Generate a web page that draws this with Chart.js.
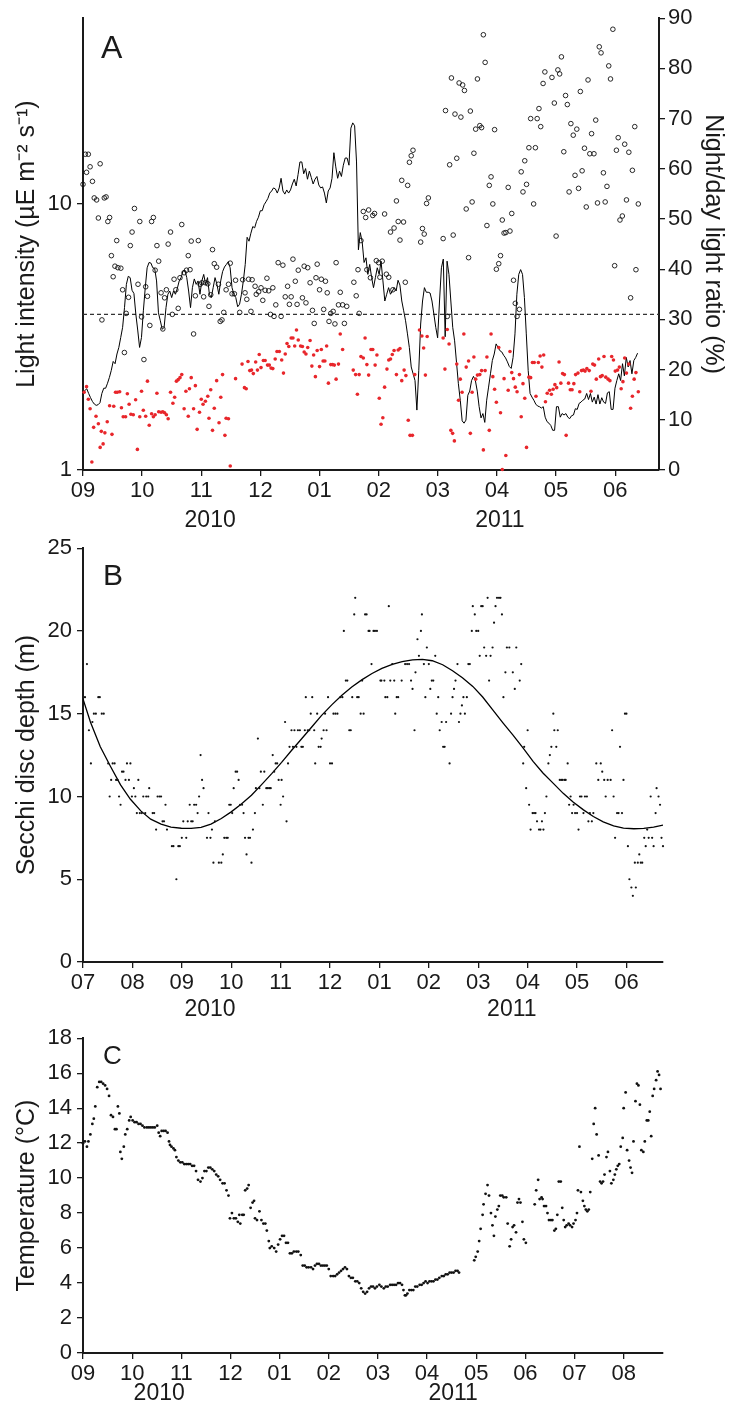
<!DOCTYPE html>
<html><head><meta charset="utf-8">
<script src="https://cdn.jsdelivr.net/npm/chart.js@4.4.0/dist/chart.umd.min.js"></script>
<style>
html,body{margin:0;padding:0;background:#fff;}
body{width:736px;height:1408px;position:relative;overflow:hidden;}
.pane{position:absolute;left:0;width:736px;}
</style></head><body>
<div class="pane" style="top:0;height:530px"><canvas id="cA"></canvas></div>
<div class="pane" style="top:530px;height:490px"><canvas id="cB"></canvas></div>
<div class="pane" style="top:1020px;height:388px"><canvas id="cC"></canvas></div>
<script>
// ---------------- DATA ----------------
// Panel A: month index 0 = Sep 2010
const monthsA = ['09','10','11','12','01','02','03','04','05','06'];
const xMaxA = 9.74;
const lightTicksA = [1, 10];
const thresholdRatio = 31;
// night/day ratio (%), open circles: [month, value]
const ratioOpen = [[0.00,56.9],[0.04,62.9],[0.06,59.3],[0.09,62.9],[0.12,60.4],[0.16,57.5],[0.19,54.2],[0.23,53.8],[0.26,50.2],[0.29,61.0],[0.32,29.9],[0.36,54.2],[0.39,54.4],[0.42,49.5],[0.45,50.3],[0.48,42.7],[0.51,38.5],[0.54,40.6],[0.57,45.7],[0.59,40.3],[0.64,40.2],[0.67,35.9],[0.70,23.4],[0.73,31.2],[0.77,34.4],[0.80,44.7],[0.83,47.4],[0.87,52.1],[0.93,37.0],[0.96,49.5],[0.99,30.5],[1.03,22.0],[1.06,36.5],[1.09,34.6],[1.13,28.8],[1.16,49.5],[1.19,50.3],[1.22,39.8],[1.25,44.7],[1.28,41.6],[1.32,35.3],[1.35,28.1],[1.38,34.3],[1.41,35.9],[1.44,45.0],[1.48,47.4],[1.51,31.0],[1.54,38.0],[1.57,35.9],[1.61,32.2],[1.64,38.3],[1.67,48.9],[1.71,39.3],[1.75,39.8],[1.78,42.7],[1.81,39.9],[1.83,45.6],[1.87,27.1],[1.90,34.7],[1.95,45.7],[1.98,37.0],[2.01,37.3],[2.04,34.5],[2.07,37.3],[2.11,37.1],[2.13,32.6],[2.16,34.9],[2.19,43.9],[2.22,41.1],[2.26,40.4],[2.29,37.0],[2.32,29.6],[2.35,29.9],[2.38,31.4],[2.42,35.9],[2.46,37.0],[2.49,41.2],[2.52,35.1],[2.56,35.1],[2.58,37.8],[2.65,31.4],[2.70,37.9],[2.74,35.3],[2.77,34.0],[2.80,38.0],[2.84,31.6],[2.86,37.9],[2.91,36.6],[2.93,35.0],[2.97,35.5],[3.01,36.3],[3.04,33.8],[3.08,35.8],[3.11,38.2],[3.14,35.7],[3.17,31.0],[3.21,36.3],[3.23,30.6],[3.26,32.9],[3.30,41.3],[3.35,30.6],[3.38,40.8],[3.42,34.5],[3.46,36.6],[3.49,33.0],[3.52,34.5],[3.55,42.0],[3.59,37.6],[3.62,33.0],[3.64,39.8],[3.71,34.3],[3.74,40.6],[3.77,33.3],[3.80,40.3],[3.84,37.3],[3.88,31.8],[3.91,29.2],[3.94,38.3],[3.96,41.0],[4.00,35.9],[4.03,38.0],[4.07,32.0],[4.10,37.6],[4.13,35.3],[4.16,29.6],[4.19,31.2],[4.23,31.6],[4.26,29.1],[4.28,41.3],[4.32,32.9],[4.35,35.4],[4.39,32.9],[4.42,29.2],[4.46,32.6],[4.58,37.4],[4.62,34.7],[4.65,39.9],[4.67,31.2],[4.70,45.7],[4.74,51.5],[4.78,50.3],[4.80,39.9],[4.83,51.8],[4.86,38.3],[4.90,50.7],[4.93,51.1],[4.96,41.7],[5.00,41.3],[5.02,38.4],[5.06,41.6],[5.10,51.0],[5.13,39.0],[5.17,38.4],[5.20,47.4],[5.24,35.9],[5.26,48.2],[5.30,53.6],[5.33,49.5],[5.36,45.8],[5.39,57.7],[5.42,49.4],[5.45,37.4],[5.49,56.7],[5.52,61.3],[5.55,62.6],[5.58,63.7],[5.71,45.4],[5.74,48.1],[5.77,47.0],[5.81,53.1],[5.84,54.2],[6.09,46.1],[6.13,71.6],[6.16,30.6],[6.20,60.8],[6.23,78.1],[6.26,46.8],[6.29,70.9],[6.32,62.1],[6.36,77.1],[6.39,70.3],[6.42,76.7],[6.45,75.6],[6.48,52.0],[6.52,42.3],[6.55,71.5],[6.58,53.4],[6.61,63.1],[6.64,67.9],[6.67,77.9],[6.71,68.6],[6.74,68.2],[6.77,86.7],[6.80,81.2],[6.83,48.7],[6.87,56.7],[6.90,58.4],[6.93,53.0],[6.96,67.8],[6.99,40.0],[7.03,41.1],[7.06,42.7],[7.09,49.8],[7.12,47.2],[7.15,47.3],[7.19,56.3],[7.22,47.6],[7.25,51.1],[7.28,37.8],[7.31,33.2],[7.34,30.6],[7.38,32.0],[7.41,59.4],[7.44,55.4],[7.47,61.6],[7.50,56.9],[7.54,64.2],[7.57,70.0],[7.62,53.0],[7.65,64.2],[7.68,70.0],[7.71,72.0],[7.74,68.4],[7.78,77.0],[7.81,79.3],[7.93,78.2],[7.97,73.1],[8.00,46.6],[8.03,79.7],[8.06,78.9],[8.09,82.3],[8.13,63.4],[8.16,74.6],[8.19,72.8],[8.22,55.4],[8.25,69.0],[8.29,66.7],[8.32,58.7],[8.35,67.9],[8.38,56.1],[8.41,75.4],[8.44,59.6],[8.48,64.1],[8.51,52.4],[8.54,77.7],[8.57,63.0],[8.60,67.0],[8.64,63.0],[8.67,69.7],[8.70,53.2],[8.73,84.3],[8.76,83.1],[8.80,59.2],[8.83,53.4],[8.86,56.5],[8.89,80.5],[8.92,77.9],[8.96,87.8],[8.99,40.7],[9.02,63.7],[9.05,66.2],[9.08,49.8],[9.12,50.6],[9.16,64.9],[9.19,53.8],[9.23,63.3],[9.26,34.3],[9.29,59.7],[9.33,68.4],[9.35,39.9],[9.39,53.0]];
// night/day ratio (%), red dots: [month, value]
const ratioRed = [[0.02,15.5],[0.06,16.6],[0.09,14.1],[0.12,12.2],[0.15,1.6],[0.18,8.5],[0.22,10.7],[0.26,9.2],[0.29,4.5],[0.31,7.7],[0.34,5.2],[0.37,7.4],[0.41,9.6],[0.45,12.8],[0.49,7.1],[0.52,12.7],[0.55,15.5],[0.58,15.5],[0.62,15.6],[0.65,12.4],[0.68,10.6],[0.72,10.6],[0.75,15.2],[0.78,13.1],[0.81,11.1],[0.85,11.0],[0.89,14.0],[0.92,4.1],[0.96,10.6],[0.99,15.7],[1.02,11.9],[1.06,10.7],[1.09,17.7],[1.12,8.9],[1.16,11.2],[1.19,10.6],[1.22,11.0],[1.25,15.3],[1.28,11.6],[1.32,11.5],[1.35,11.6],[1.38,11.4],[1.41,11.0],[1.44,10.2],[1.48,15.5],[1.52,13.3],[1.55,14.5],[1.58,17.7],[1.61,18.0],[1.64,18.4],[1.67,19.0],[1.71,12.2],[1.74,15.7],[1.78,10.7],[1.80,16.2],[1.83,18.4],[1.87,12.2],[1.90,16.8],[1.93,8.1],[1.97,11.5],[2.00,14.1],[2.03,13.1],[2.07,13.7],[2.11,14.7],[2.13,10.3],[2.16,16.0],[2.19,7.9],[2.22,12.3],[2.26,17.8],[2.30,9.4],[2.33,14.5],[2.36,19.0],[2.40,6.9],[2.42,10.3],[2.46,10.2],[2.49,0.8],[2.58,18.2],[2.69,21.1],[2.73,16.4],[2.76,16.2],[2.79,21.6],[2.82,19.8],[2.85,19.9],[2.88,19.2],[2.92,21.5],[2.95,19.9],[2.98,23.0],[3.01,20.4],[3.05,21.8],[3.08,21.8],[3.12,20.9],[3.15,20.9],[3.18,20.3],[3.21,20.2],[3.25,22.1],[3.28,23.6],[3.32,23.6],[3.36,21.9],[3.39,19.3],[3.42,23.1],[3.45,25.2],[3.48,24.6],[3.52,26.3],[3.55,26.3],[3.58,24.7],[3.61,27.9],[3.64,25.9],[3.68,24.7],[3.71,24.6],[3.74,23.5],[3.77,23.1],[3.80,24.4],[3.84,25.8],[3.87,20.7],[3.90,22.9],[3.93,18.6],[3.96,23.8],[4.00,20.6],[4.03,24.0],[4.06,21.7],[4.09,21.7],[4.12,24.7],[4.15,17.3],[4.19,21.0],[4.22,21.0],[4.25,20.9],[4.28,18.1],[4.32,21.1],[4.35,27.1],[4.39,24.0],[4.57,19.9],[4.61,19.0],[4.64,15.1],[4.67,19.0],[4.70,22.6],[4.74,22.3],[4.77,26.3],[4.80,21.0],[4.83,18.9],[4.87,24.0],[4.90,24.0],[4.94,20.9],[4.97,22.9],[5.01,14.3],[5.04,9.1],[5.07,10.4],[5.10,16.5],[5.14,20.1],[5.17,21.9],[5.20,22.1],[5.23,23.0],[5.26,23.8],[5.30,19.0],[5.33,23.9],[5.36,24.2],[5.39,17.8],[5.43,19.9],[5.46,18.8],[5.50,9.9],[5.53,6.9],[5.57,6.9],[5.61,19.0],[5.69,27.9],[5.73,26.7],[5.76,24.3],[5.79,18.9],[5.82,26.6],[6.09,26.3],[6.12,20.1],[6.16,28.0],[6.19,25.1],[6.22,7.9],[6.25,7.3],[6.28,5.8],[6.32,21.1],[6.35,13.9],[6.38,18.1],[6.41,15.5],[6.44,27.1],[6.48,20.5],[6.52,21.7],[6.55,7.3],[6.58,15.5],[6.61,22.5],[6.64,18.1],[6.67,18.9],[6.71,19.0],[6.74,19.8],[6.77,4.0],[6.80,19.8],[6.83,22.5],[6.87,7.9],[6.90,27.1],[6.93,18.6],[6.96,16.1],[6.99,13.5],[7.03,24.4],[7.06,11.4],[7.09,0.1],[7.12,18.2],[7.15,2.9],[7.19,15.9],[7.22,23.6],[7.25,19.4],[7.28,18.2],[7.31,16.5],[7.34,15.6],[7.38,19.0],[7.41,10.6],[7.44,17.2],[7.47,14.3],[7.50,4.5],[7.54,18.5],[7.57,18.4],[7.60,21.4],[7.63,21.4],[7.66,14.7],[7.70,21.4],[7.73,22.7],[7.76,20.5],[7.79,22.9],[7.82,13.6],[7.85,15.3],[7.89,15.9],[7.92,15.1],[7.95,16.1],[7.98,17.0],[8.01,16.4],[8.05,21.5],[8.08,17.3],[8.11,19.2],[8.14,19.0],[8.17,6.9],[8.21,17.3],[8.24,16.0],[8.27,16.0],[8.30,17.2],[8.33,19.0],[8.37,19.3],[8.40,15.6],[8.43,19.8],[8.46,19.9],[8.49,19.7],[8.52,20.2],[8.56,19.8],[8.59,15.7],[8.62,21.1],[8.65,20.9],[8.68,18.1],[8.72,22.1],[8.75,18.6],[8.78,18.8],[8.81,22.6],[8.84,18.5],[8.88,18.1],[8.91,17.8],[8.94,22.6],[8.97,21.9],[9.00,19.7],[9.04,19.9],[9.07,20.5],[9.10,16.2],[9.13,17.6],[9.16,22.3],[9.19,19.3],[9.23,21.1],[9.26,12.3],[9.29,14.7],[9.32,18.1],[9.35,19.4],[9.39,15.6]];
// light intensity (µE m-2 s-1), one sample per day-step
const lightSamplesPerMonth = 31.35;
const lightIntensity = [1.96,1.99,2.02,1.94,1.87,1.81,1.77,1.75,1.76,1.79,
1.94,2.03,2.03,2.12,2.23,2.37,2.56,2.51,2.73,2.89,
3.15,3.44,4.08,4.99,5.35,5.29,4.74,4.61,3.86,3.36,
2.89,3.15,3.97,4.85,5.76,6.03,6.00,5.76,5.73,5.14,
3.90,3.64,3.38,3.44,4.08,4.58,4.71,4.45,4.71,4.58,
4.82,5.14,5.29,5.60,5.63,5.29,4.71,4.08,4.85,5.23,
4.99,5.14,4.58,5.14,5.44,4.99,5.29,4.58,4.45,4.85,
5.29,4.99,4.58,5.14,5.57,5.80,5.93,6.07,5.76,4.85,
4.58,4.45,4.11,4.20,4.58,5.14,5.93,7.50,7.25,7.77,
8.23,8.14,8.61,8.92,9.44,9.44,9.94,10.2,10.5,11.0,
11.2,11.5,11.4,11.0,11.5,12.5,11.2,10.9,11.3,11.0,
11.3,11.9,12.4,11.7,12.9,14.4,14.4,13.0,13.6,12.4,
13.3,12.6,11.9,12.4,12.7,11.8,11.5,11.6,11.0,10.1,
11.2,11.5,12.5,15.6,13.8,12.5,13.3,12.7,14.0,14.9,
14.9,14.0,19.3,20.2,19.7,14.4,6.73,7.81,7.21,6.03,
6.28,5.44,5.93,5.29,4.85,5.29,5.76,5.44,6.10,5.14,
4.32,4.58,4.85,4.58,4.71,4.85,4.71,5.17,4.96,4.32,
3.97,3.64,3.25,2.89,2.44,2.30,2.17,1.68,2.37,3.54,
4.32,4.85,4.66,4.66,4.63,4.32,3.86,3.44,3.14,4.32,
5.76,6.21,3.17,6.10,5.44,4.32,3.44,3.06,2.54,2.11,
1.83,1.53,1.50,1.54,1.91,1.98,2.17,2.25,2.17,1.98,
1.73,1.57,1.63,1.51,1.83,2.05,2.30,2.58,2.73,2.98,
2.89,2.81,2.78,2.70,2.64,2.55,2.45,2.41,2.65,3.25,
4.58,5.44,5.67,5.44,4.45,3.25,2.37,1.94,1.88,1.83,
1.77,1.74,1.73,1.71,1.73,1.58,1.52,1.50,1.47,1.41,
1.41,1.73,1.73,1.58,1.63,1.61,1.63,1.58,1.56,1.60,
1.61,1.70,1.69,1.78,1.80,1.83,1.85,1.94,1.84,1.94,
1.80,1.88,1.77,1.92,1.77,1.87,1.80,1.78,1.95,1.97,
1.69,1.69,2.03,2.17,2.30,2.17,2.51,2.26,2.65,2.44,
2.58,2.30,2.58,2.65,2.75];

// Panel B: month index 0 = Jul 2010
const monthsB = ['07','08','09','10','11','12','01','02','03','04','05','06'];
const xMaxB = 11.74;
const secchi = [[0.04,16],[0.08,18],[0.12,14],[0.16,12],[0.19,14.5],[0.22,15],[0.26,15],[0.31,16],[0.34,16],[0.38,15],[0.42,15],[0.51,12],[0.54,10],[0.57,11],[0.60,12],[0.64,12],[0.67,11],[0.70,11],[0.73,10],[0.76,9.5],[0.79,11.5],[0.82,11.5],[0.86,11],[0.89,12],[0.93,11],[0.96,12],[0.99,10],[1.03,10.5],[1.06,10],[1.09,9],[1.12,11],[1.15,9],[1.19,9],[1.22,10],[1.26,9],[1.28,10],[1.32,10],[1.34,10.5],[1.41,9],[1.44,9],[1.48,8],[1.51,10],[1.55,10],[1.58,10],[1.61,8.5],[1.64,8.5],[1.67,9.5],[1.70,8],[1.80,7],[1.83,7],[1.89,5],[1.93,7],[1.96,7],[2.00,7.5],[2.03,8.5],[2.09,7.5],[2.12,8.5],[2.16,9.5],[2.19,8.5],[2.22,8.5],[2.25,9.5],[2.29,9.5],[2.32,9],[2.35,10],[2.38,12.5],[2.41,11],[2.44,10.5],[2.51,7.5],[2.54,9],[2.58,7.5],[2.61,8],[2.64,6],[2.67,8.5],[2.75,6],[2.80,6],[2.83,6.5],[2.86,7.5],[2.90,7.5],[2.93,7.5],[2.96,9.5],[2.99,9.5],[3.02,9],[3.05,10.5],[3.09,11.5],[3.12,11.5],[3.15,11],[3.18,9.5],[3.22,9.5],[3.25,9],[3.28,7.5],[3.31,6.5],[3.35,7.5],[3.38,7.5],[3.41,6],[3.44,8],[3.48,9],[3.50,10.5],[3.54,13.5],[3.57,10.5],[3.60,11.5],[3.64,9.5],[3.67,11.5],[3.71,10.5],[3.74,10.5],[3.77,10.5],[3.80,10.5],[3.84,12.5],[3.87,11.5],[3.90,12],[3.93,12],[3.96,11],[4.00,9.5],[4.02,11],[4.05,10],[4.09,14.5],[4.12,8.5],[4.15,12],[4.18,13],[4.22,14],[4.25,13],[4.28,14],[4.32,13],[4.35,14],[4.39,14],[4.42,13],[4.45,13],[4.49,14],[4.51,16],[4.55,14],[4.58,14],[4.61,15],[4.64,16],[4.68,14],[4.70,12],[4.74,15],[4.77,13],[4.81,13],[4.83,13.5],[4.87,14],[4.90,15],[4.93,14],[4.96,16],[5.00,12],[5.04,12],[5.07,15],[5.11,15],[5.15,15],[5.21,16],[5.25,16],[5.28,20],[5.32,17],[5.35,17],[5.39,14],[5.42,14],[5.45,16],[5.49,21],[5.51,22],[5.55,16],[5.58,16],[5.62,15],[5.65,17],[5.68,15],[5.71,21],[5.74,21],[5.78,20],[5.80,20],[5.84,18],[5.88,20],[5.91,20],[5.95,20],[6.02,17],[6.04,17],[6.10,17],[6.12,16],[6.16,16],[6.19,21.5],[6.22,17],[6.26,18],[6.30,17],[6.32,15],[6.35,16],[6.38,16],[6.45,17],[6.52,18],[6.56,18],[6.60,18],[6.64,17],[6.67,16.5],[6.71,14],[6.73,17.5],[6.77,19.5],[6.80,18.5],[6.84,20],[6.86,21],[6.90,18],[6.93,16],[6.96,19],[7.00,18],[7.03,16.5],[7.06,17],[7.09,17],[7.13,18.5],[7.16,15],[7.19,16],[7.22,14],[7.26,14.5],[7.29,13],[7.32,13],[7.35,14.5],[7.42,12],[7.45,15],[7.48,16],[7.51,16.5],[7.54,17],[7.58,18],[7.61,14.5],[7.64,15],[7.67,15.5],[7.70,16],[7.73,15],[7.77,16],[7.80,18],[7.83,18],[7.87,20],[7.89,21.5],[7.93,21],[7.96,20],[8.00,20],[8.03,18.5],[8.06,21.5],[8.09,21.5],[8.12,19],[8.16,18.5],[8.19,22],[8.22,17],[8.25,18.5],[8.29,19],[8.32,20.5],[8.35,21.5],[8.38,22],[8.42,22],[8.45,22],[8.48,21],[8.51,16],[8.55,17.5],[8.58,19],[8.63,19],[8.70,17.5],[8.74,16.5],[8.77,19],[8.84,17],[8.87,18],[8.91,12],[8.93,13],[8.97,10.5],[9.00,14],[9.03,9.5],[9.06,8],[9.10,9],[9.13,9],[9.16,9],[9.19,8.5],[9.23,8],[9.26,8],[9.29,8.5],[9.32,8],[9.35,9],[9.38,10],[9.42,12],[9.45,12.5],[9.48,13],[9.52,15],[9.54,14],[9.58,13],[9.61,14],[9.65,11],[9.68,11],[9.71,11],[9.75,11],[9.77,11],[9.81,12],[9.84,9.5],[9.87,10],[9.90,9],[9.93,9.5],[9.96,9],[10.00,9],[10.03,8],[10.06,10],[10.09,10],[10.13,9],[10.16,10],[10.20,10],[10.23,8.5],[10.26,9],[10.30,8.5],[10.33,9],[10.39,12],[10.43,11],[10.48,12],[10.51,11.5],[10.55,11],[10.58,10],[10.62,11],[10.68,11],[10.71,14],[10.74,10],[10.77,7.5],[10.81,9],[10.84,9],[10.87,13],[10.91,9],[10.94,11],[10.97,15],[11.00,15],[11.03,7],[11.06,5],[11.10,4.5],[11.13,4],[11.17,6],[11.19,4.5],[11.23,6],[11.26,6.5],[11.29,6],[11.32,6],[11.36,7.5],[11.39,7],[11.42,8],[11.45,7.5],[11.49,10],[11.52,7.5],[11.55,7],[11.59,9],[11.61,10.5],[11.65,10],[11.68,9.5],[11.71,7.5],[11.74,7]];
const secchiFit = [[0,15.9],[0.15,14.5],[0.35,13.0],[0.56,11.8],[0.76,10.7],[0.96,9.83],[1.17,9.13],[1.37,8.63],[1.58,8.33],[1.78,8.15],[1.99,8.08],[2.19,8.07],[2.39,8.13],[2.59,8.33],[2.80,8.67],[3.00,9.07],[3.20,9.53],[3.41,10.07],[3.61,10.7],[3.82,11.38],[4.02,12.06],[4.22,12.78],[4.43,13.5],[4.63,14.2],[4.83,14.9],[5.04,15.55],[5.24,16.12],[5.44,16.62],[5.65,17.06],[5.85,17.43],[6.05,17.74],[6.26,17.98],[6.46,18.15],[6.67,18.25],[6.87,18.28],[7.07,18.2],[7.28,17.96],[7.48,17.6],[7.68,17.17],[7.89,16.65],[8.09,16.01],[8.29,15.25],[8.50,14.45],[8.70,13.72],[8.91,12.92],[9.11,12.12],[9.31,11.42],[9.52,10.79],[9.72,10.19],[9.92,9.67],[10.13,9.19],[10.33,8.79],[10.53,8.47],[10.74,8.23],[10.94,8.09],[11.15,8.05],[11.35,8.07],[11.55,8.15],[11.74,8.27]];

// Panel C: month index 0 = Sep 2010
const monthsC = ['09','10','11','12','01','02','03','04','05','06','07','08'];
const xMaxC = 11.8;
const temperature = [[0.00,12.0],[0.04,12.1],[0.08,11.8],[0.11,12.1],[0.15,12.5],[0.19,13.1],[0.22,13.4],[0.25,14.1],[0.29,15.2],[0.33,15.5],[0.37,15.5],[0.41,15.4],[0.45,15.3],[0.49,15.1],[0.53,14.7],[0.57,13.6],[0.61,13.5],[0.65,12.8],[0.68,12.8],[0.71,14.1],[0.74,13.7],[0.76,11.5],[0.79,11.1],[0.83,11.8],[0.86,12.5],[0.90,12.8],[0.94,13.3],[0.97,13.5],[1.01,13.3],[1.05,13.2],[1.09,13.2],[1.13,13.1],[1.17,13.1],[1.21,13.0],[1.25,12.9],[1.30,12.9],[1.34,12.9],[1.38,12.9],[1.42,12.9],[1.46,12.9],[1.51,13.0],[1.54,12.6],[1.57,12.4],[1.60,12.7],[1.64,12.7],[1.68,12.7],[1.72,12.6],[1.75,12.1],[1.77,11.9],[1.80,11.8],[1.84,11.7],[1.87,11.6],[1.90,11.2],[1.94,11.0],[1.98,10.9],[2.02,10.9],[2.06,10.8],[2.10,10.8],[2.14,10.8],[2.18,10.8],[2.22,10.7],[2.26,10.7],[2.30,10.4],[2.34,9.9],[2.39,9.8],[2.43,10.0],[2.47,10.4],[2.51,10.4],[2.55,10.6],[2.59,10.6],[2.63,10.5],[2.67,10.4],[2.71,10.2],[2.75,10.1],[2.79,9.9],[2.84,9.7],[2.88,9.7],[2.92,9.3],[2.96,9.0],[2.99,7.7],[3.03,8.0],[3.07,7.7],[3.11,7.7],[3.15,7.5],[3.18,7.9],[3.20,7.4],[3.24,7.9],[3.27,7.9],[3.30,9.3],[3.34,9.4],[3.37,9.6],[3.41,8.3],[3.45,8.6],[3.48,8.7],[3.50,7.7],[3.54,7.6],[3.59,8.1],[3.63,7.6],[3.67,7.4],[3.71,7.4],[3.74,7.0],[3.78,6.4],[3.80,6.0],[3.84,6.1],[3.89,6.0],[3.93,5.8],[3.97,6.2],[4.01,6.5],[4.05,6.7],[4.09,6.7],[4.13,6.3],[4.17,6.3],[4.21,5.7],[4.25,5.7],[4.29,5.8],[4.34,5.8],[4.38,5.8],[4.43,5.6],[4.47,5.0],[4.51,5.0],[4.55,4.9],[4.59,4.9],[4.64,4.9],[4.68,4.8],[4.72,5.0],[4.76,5.1],[4.80,5.1],[4.84,5.0],[4.88,5.0],[4.92,5.0],[4.96,5.0],[5.00,4.8],[5.04,4.4],[5.09,4.4],[5.13,4.4],[5.17,4.5],[5.21,4.6],[5.25,4.7],[5.29,4.8],[5.33,4.9],[5.37,4.8],[5.41,4.4],[5.45,4.3],[5.49,4.3],[5.54,4.1],[5.58,4.1],[5.62,4.0],[5.66,3.7],[5.70,3.5],[5.74,3.4],[5.78,3.5],[5.82,3.7],[5.86,3.8],[5.90,3.8],[5.94,3.7],[5.98,3.8],[6.03,3.9],[6.07,3.8],[6.12,3.7],[6.16,3.8],[6.20,3.8],[6.25,3.9],[6.29,3.9],[6.33,3.9],[6.37,3.9],[6.41,4.0],[6.45,4.0],[6.49,3.9],[6.52,3.6],[6.55,3.3],[6.57,3.3],[6.60,3.4],[6.64,3.6],[6.68,3.6],[6.72,3.6],[6.76,3.8],[6.80,3.8],[6.85,3.9],[6.89,3.9],[6.93,4.0],[6.97,4.1],[7.01,4.0],[7.05,4.1],[7.09,4.1],[7.13,4.1],[7.17,4.2],[7.21,4.2],[7.25,4.3],[7.30,4.4],[7.34,4.4],[7.38,4.5],[7.42,4.5],[7.46,4.6],[7.50,4.6],[7.54,4.6],[7.58,4.7],[7.62,4.7],[7.65,4.6],[7.96,5.3],[7.99,5.5],[8.03,5.8],[8.06,6.4],[8.09,7.1],[8.13,7.9],[8.15,8.5],[8.19,9.1],[8.23,9.6],[8.26,9.0],[8.30,8.0],[8.33,7.3],[8.36,6.7],[8.39,7.8],[8.43,8.2],[8.46,8.4],[8.49,9.0],[8.53,9.0],[8.56,8.9],[8.61,8.9],[8.64,7.4],[8.68,6.1],[8.71,6.5],[8.74,7.2],[8.77,7.3],[8.81,6.9],[8.84,8.6],[8.87,8.8],[8.90,8.6],[8.94,7.5],[8.97,6.5],[9.01,6.3],[9.19,8.5],[9.22,9.3],[9.26,9.9],[9.29,8.8],[9.33,8.9],[9.35,8.8],[9.38,8.4],[9.42,8.4],[9.45,8.0],[9.48,7.6],[9.52,7.6],[9.55,7.6],[9.59,7.0],[9.62,7.1],[9.65,7.9],[9.68,9.8],[9.72,9.8],[9.75,8.3],[9.78,7.6],[9.81,7.2],[9.84,7.3],[9.88,7.4],[9.91,7.3],[9.95,7.2],[9.98,7.4],[10.02,7.6],[10.05,8.0],[10.07,9.3],[10.10,11.8],[10.13,9.2],[10.17,8.7],[10.20,8.4],[10.23,8.2],[10.26,8.1],[10.29,8.2],[10.32,9.2],[10.36,11.1],[10.39,13.1],[10.42,14.0],[10.45,12.5],[10.49,11.3],[10.52,9.8],[10.55,9.7],[10.58,9.8],[10.61,10.2],[10.65,11.2],[10.68,11.5],[10.72,10.4],[10.75,9.7],[10.79,9.9],[10.82,10.2],[10.85,10.5],[10.88,10.7],[10.91,10.8],[10.94,11.8],[10.98,12.3],[11.00,14.0],[11.04,14.9],[11.07,11.6],[11.11,11.0],[11.14,10.6],[11.17,10.3],[11.20,12.1],[11.24,14.4],[11.27,15.4],[11.30,15.3],[11.33,14.2],[11.36,11.6],[11.40,11.5],[11.43,12.1],[11.47,13.3],[11.50,13.3],[11.53,13.8],[11.56,12.4],[11.59,14.7],[11.62,15.1],[11.66,15.6],[11.69,16.1],[11.72,15.9],[11.75,15.1]];

const yearLabels = ['2010','2011'];

// ---------------- RENDER ----------------
const FONT = "'Liberation Sans', Arial, Helvetica, sans-serif";
const INK = '#1a1a1a';
const pts = arr => arr.map(p => ({x:p[0], y:p[1]}));

const annot = {
  id:'annot',
  afterDraw(chart, args, o){
    const {ctx, chartArea, scales} = chart;
    ctx.save();
    ctx.fillStyle = INK;
    ctx.font = o.letterSize + 'px ' + FONT;
    ctx.textAlign = 'left'; ctx.textBaseline = 'alphabetic';
    ctx.fillText(o.letter, chartArea.left + o.letterDx, chartArea.top + o.letterDy);
    ctx.font = o.yearSize + 'px ' + FONT;
    ctx.textAlign = 'center'; ctx.textBaseline = 'middle';
    o.yearPos.forEach((v,i) => ctx.fillText(yearLabels[i], scales.x.getPixelForValue(v), chartArea.bottom + o.yearDy));
    ctx.restore();
  }
};

function xAxis(max, labels, h, size){
  return {
    type:'linear', position:'bottom', min:0, max:max,
    afterFit: s => { s.height = h; },
    ticks:{ stepSize:1, includeBounds:false, autoSkip:false, maxRotation:0, minRotation:0, padding:2, color:INK,
      font:{size:size, family:FONT},
      callback: v => { const i = Math.round(v); return Math.abs(v-i) < 1e-6 && labels[i] !== undefined ? labels[i] : ''; } },
    grid:{ drawOnChartArea:false, drawTicks:true, tickLength:6, color:INK, lineWidth:1.3 },
    border:{ display:true, color:INK, width:2 }
  };
}
function yAxis(extra){
  return Object.assign({
    grid:{ drawOnChartArea:false, drawTicks:true, tickLength:6, color:INK, lineWidth:1.3 },
    border:{ display:true, color:INK, width:2 }
  }, extra);
}
const common = {
  responsive:true, maintainAspectRatio:false, animation:false, events:[],
};

// Panel A
new Chart(document.getElementById('cA'), {
  type:'scatter',
  data:{ datasets:[
    { data: lightIntensity.map((v,i)=>({x:i/lightSamplesPerMonth, y:v})), yAxisID:'yL', showLine:true,
      borderColor:'#000', borderWidth:1, pointRadius:0, order:3 },
    { data: [{x:0,y:thresholdRatio},{x:xMaxA,y:thresholdRatio}], yAxisID:'yR', showLine:true,
      borderColor:'#333', borderWidth:1.2, borderDash:[4,3], pointRadius:0, order:4 },
    { data: pts(ratioOpen), yAxisID:'yR', pointRadius:2.3, pointBorderWidth:0.9,
      pointBorderColor:'#111', pointBackgroundColor:'rgba(255,255,255,0)', clip:false, order:2 },
    { data: pts(ratioRed), yAxisID:'yR', pointRadius:1.8, pointBorderWidth:0,
      pointBackgroundColor:'#e8262b', clip:false, order:1 }
  ]},
  options: Object.assign({}, common, {
    layout:{ padding:{ top:16, left:0, right:0, bottom:0 } },
    plugins:{ legend:{display:false}, tooltip:{enabled:false},
      annot:{ letter:'A', letterSize:32, letterDx:18, letterDy:40, yearSize:23, yearDy:51, yearPos:[2.15, 7.05] } },
    scales:{
      x: xAxis(xMaxA, monthsA, 60, 22),
      yL: yAxis({ type:'logarithmic', position:'left', min:1, max:50,
        afterBuildTicks: s => { s.ticks = lightTicksA.map(v=>({value:v})); },
        afterFit: s => { s.width = 83; },
        ticks:{ padding:5, color:INK, font:{size:22, family:FONT}, callback: v => String(v) },
        title:{ display:true, text:'Light intensity (µE m⁻² s⁻¹)', color:INK, font:{size:25, family:FONT}, padding:{top:12, bottom:0} } }),
      yR: yAxis({ type:'linear', position:'right', min:0, max:90,
        afterFit: s => { s.width = 77; },
        ticks:{ stepSize:10, padding:3, color:INK, font:{size:22, family:FONT} },
        title:{ display:true, text:'Night/day light ratio (%)', color:INK, font:{size:25, family:FONT}, padding:{top:8, bottom:0} } })
    }
  }),
  plugins:[annot]
});

// Panel B
new Chart(document.getElementById('cB'), {
  type:'scatter',
  data:{ datasets:[
    { data: pts(secchiFit), showLine:true, borderColor:'#000', borderWidth:1.3, pointRadius:0, order:2 },
    { data: pts(secchi), pointRadius:1.1, pointBorderWidth:0, pointBackgroundColor:'#111', clip:false, order:1 }
  ]},
  options: Object.assign({}, common, {
    layout:{ padding:{ top:13, left:0, right:73, bottom:0 } },
    plugins:{ legend:{display:false}, tooltip:{enabled:false},
      annot:{ letter:'B', letterSize:30, letterDx:20, letterDy:37, yearSize:23, yearDy:48, yearPos:[2.57, 8.68] } },
    scales:{
      x: xAxis(xMaxB, monthsB, 58, 22),
      y: yAxis({ type:'linear', position:'left', min:0, max:25,
        afterFit: s => { s.width = 83; },
        ticks:{ stepSize:5, padding:5, color:INK, font:{size:22, family:FONT} },
        title:{ display:true, text:'Secchi disc depth (m)', color:INK, font:{size:25, family:FONT}, padding:{top:12, bottom:0} } })
    }
  }),
  plugins:[annot]
});

// Panel C
new Chart(document.getElementById('cC'), {
  type:'scatter',
  data:{ datasets:[
    { data: pts(temperature), pointRadius:1.4, pointBorderWidth:0, pointBackgroundColor:'#111', clip:false }
  ]},
  options: Object.assign({}, common, {
    layout:{ padding:{ top:17, left:0, right:73, bottom:0 } },
    plugins:{ legend:{display:false}, tooltip:{enabled:false},
      annot:{ letter:'C', letterSize:26, letterDx:20, letterDy:26, yearSize:23, yearDy:41, yearPos:[1.55, 7.53] } },
    scales:{
      x: xAxis(xMaxC, monthsC, 55, 22),
      y: yAxis({ type:'linear', position:'left', min:0, max:18,
        afterFit: s => { s.width = 83; },
        ticks:{ stepSize:2, padding:5, color:INK, font:{size:22, family:FONT} },
        title:{ display:true, text:'Temperature (°C)', color:INK, font:{size:25, family:FONT}, padding:{top:12, bottom:0} } })
    }
  }),
  plugins:[annot]
});
</script>
</body></html>
